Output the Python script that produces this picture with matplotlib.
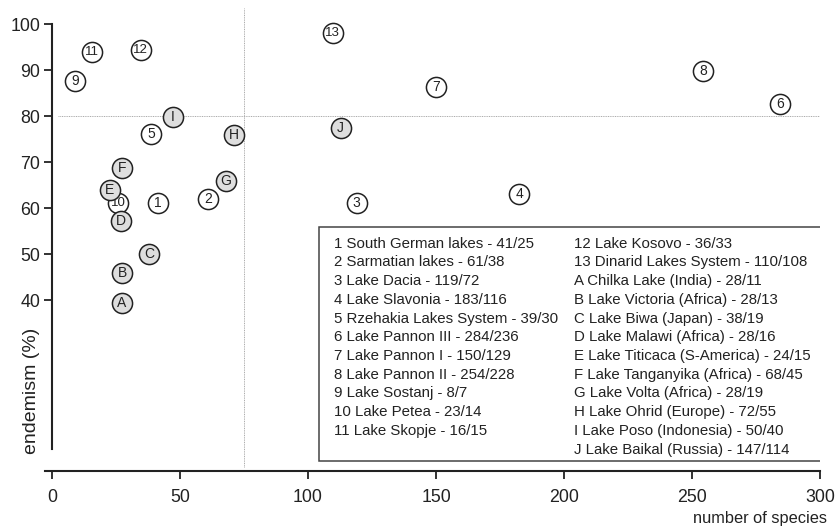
import matplotlib
matplotlib.use("Agg")
import matplotlib.pyplot as plt
from matplotlib.patches import Rectangle

plt.rcParams["font.family"] = ["Liberation Sans", "DejaVu Sans"]

# positions as drawn in the figure (number of species, endemism %)
num_ids = ["1", "2", "3", "4", "5", "6", "7", "8", "9", "10", "11", "12", "13"]
num_x = [41.4, 60.9, 119.0, 182.4, 38.7, 284.3, 149.9, 254.1, 9.0, 25.9, 15.5, 34.6, 109.6]
num_y = [61.1, 62.0, 61.1, 63.0, 76.2, 82.6, 86.3, 89.8, 87.7, 61.1, 94.0, 94.3, 98.0]

let_ids = ["A", "B", "C", "D", "E", "F", "G", "H", "I", "J"]
let_x = [27.2, 27.5, 37.9, 27.1, 22.6, 27.3, 67.8, 71.2, 47.1, 112.7]
let_y = [39.3, 46.0, 50.1, 57.2, 64.0, 68.7, 66.0, 76.0, 79.9, 77.4]

# legend content: name - total species / endemic species
num_names = ["South German lakes", "Sarmatian lakes", "Lake Dacia", "Lake Slavonia",
             "Rzehakia Lakes System", "Lake Pannon III", "Lake Pannon I", "Lake Pannon II",
             "Lake Sostanj", "Lake Petea", "Lake Skopje", "Lake Kosovo",
             "Dinarid Lakes System"]
num_counts = ["41/25", "61/38", "119/72", "183/116", "39/30", "284/236", "150/129",
              "254/228", "8/7", "23/14", "16/15", "36/33", "110/108"]
let_names = ["Chilka Lake (India)", "Lake Victoria (Africa)", "Lake Biwa (Japan)",
             "Lake Malawi (Africa)", "Lake Titicaca (S-America)", "Lake Tanganyika (Africa)",
             "Lake Volta (Africa)", "Lake Ohrid (Europe)", "Lake Poso (Indonesia)",
             "Lake Baikal (Russia)"]
let_counts = ["28/11", "28/13", "38/19", "28/16", "24/15", "68/45", "28/19", "72/55",
              "50/40", "147/114"]

x_ticks = [0, 50, 100, 150, 200, 250, 300]
y_ticks = [40, 50, 60, 70, 80, 90, 100]
x_thresh = 75
y_thresh = 80

INK = "#222222"

fig = plt.figure(figsize=(8.38, 5.30), dpi=100)
ax = fig.add_axes([0.0537, 0.1119, 0.9252, 0.873])
ax.set_xlim(-2.7, 300)
ax.set_ylim(2.96, 103.5)

for s in ["top", "right"]:
    ax.spines[s].set_visible(False)
ax.spines["left"].set_position(("data", 0))
ax.spines["left"].set_bounds(7.7, 100)
for s in ["left", "bottom"]:
    ax.spines[s].set_linewidth(1.5)
    ax.spines[s].set_color(INK)

ax.set_xticks(x_ticks)
ax.set_yticks(y_ticks)
ax.tick_params(axis="both", colors=INK, labelsize=12.8, width=1.3, length=5.5)
ax.tick_params(axis="x", pad=8)
ax.tick_params(axis="y", pad=3)

# threshold guides
ax.vlines(x_thresh, 3.8, 103.5, colors="#aaaaaa", linestyles=(0, (1, 0.8)), lw=0.7)
ax.hlines(y_thresh, 2.5, 300, colors="#aaaaaa", linestyles=(0, (1, 0.8)), lw=0.7)

z = 3
for lab, x, y in zip(num_ids, num_x, num_y):
    ax.plot(x, y, "o", ms=14.5, mfc="white", mec=INK, mew=1.1, zorder=z)
    ax.text(x, y, lab, ha="center", va="center", fontsize=9.5 if len(lab) > 1 else 10,
            color=INK, zorder=z + 1)
    z += 2
for lab, x, y in zip(let_ids, let_x, let_y):
    ax.plot(x, y, "o", ms=14.5, mfc="#dedede", mec=INK, mew=1.1, zorder=z)
    ax.text(x, y, lab, ha="center", va="center", fontsize=10, color=INK, zorder=z + 1)
    z += 2

# legend box
ax.add_patch(Rectangle((104.4, 5.1), 195.7, 50.8, fill=False, ec="#444444", lw=1.1,
                       zorder=2))
left_lines = [f"{i} {n} - {c}" for i, n, c in
              zip(num_ids[:11], num_names[:11], num_counts[:11])]
right_lines = [f"{i} {n} - {c}" for i, n, c in
               zip(num_ids[11:], num_names[11:], num_counts[11:])]
right_lines += [f"{i} {n} - {c}" for i, n, c in zip(let_ids, let_names, let_counts)]
step = 4.07
for k, line in enumerate(left_lines):
    ax.text(110.1, 52.3 - k * step, line, ha="left", va="center", fontsize=10.8,
            color=INK)
for k, line in enumerate(right_lines):
    ax.text(203.8, 52.3 - k * step, line, ha="left", va="center", fontsize=10.8,
            color=INK)

fig.text(31 / 838, 1 - 391 / 530, "endemism (%)", rotation=90, ha="center",
         va="center", fontsize=14, color=INK)
fig.text(827 / 838, 1 - 519 / 530, "number of species", ha="right", va="center",
         fontsize=11.8, color=INK)

fig.savefig("out.png", dpi=100)
